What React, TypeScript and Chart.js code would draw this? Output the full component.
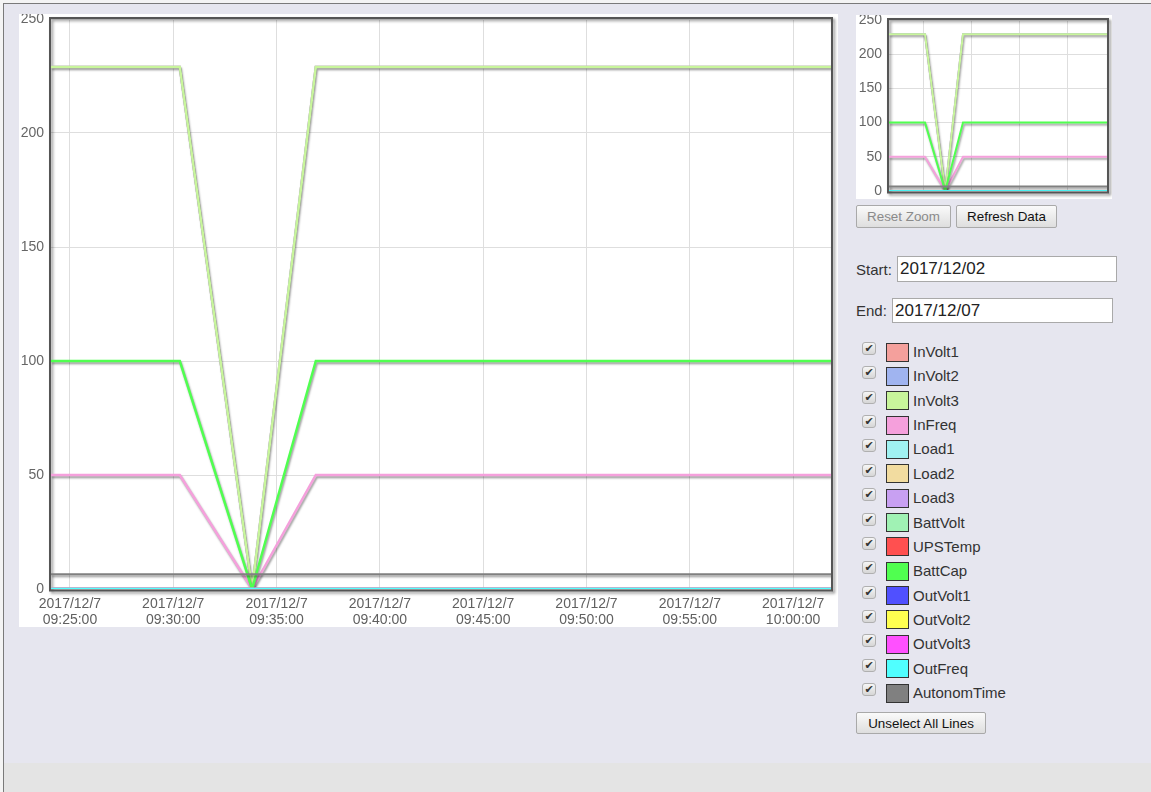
import React, { useEffect, useRef } from 'react';
import { Chart, registerables } from 'chart.js';
Chart.register(...registerables);

// ---- data ----
const dateLabel = '2017/12/7';
const times = ['09:24:05', '09:30:19', '09:33:49', '09:36:54', '10:01:50'];
const inVolt1 = [229, 229, 0, 229, 229];
const inVolt2 = [229, 229, 0, 229, 229];
const inVolt3 = [229, 229, 0, 229, 229];
const inFreq = [50, 50, 0, 50, 50];
const load1 = [0, 0, 0, 0, 0];
const load2 = [0, 0, 0, 0, 0];
const load3 = [0, 0, 0, 0, 0];
const battVolt = [0, 0, 0, 0, 0];
const upsTemp = [0, 0, 0, 0, 0];
const battCap = [100, 100, 0, 100, 100];
const outVolt1 = [0, 0, 0, 0, 0];
const outVolt2 = [0, 0, 0, 0, 0];
const outVolt3 = [0, 0, 0, 0, 0];
const outFreq = [0, 0, 0, 0, 0];
const autonomTime = [6.5, 6.5, 6.5, 6.5, 6.5];

const seriesNames = ['InVolt1', 'InVolt2', 'InVolt3', 'InFreq', 'Load1', 'Load2', 'Load3', 'BattVolt', 'UPSTemp', 'BattCap', 'OutVolt1', 'OutVolt2', 'OutVolt3', 'OutFreq', 'AutonomTime'];
const seriesValues = [inVolt1, inVolt2, inVolt3, inFreq, load1, load2, load3, battVolt, upsTemp, battCap, outVolt1, outVolt2, outVolt3, outFreq, autonomTime];
const seriesColors = ['#f4a09c', '#a0b4f0', '#c8f59b', '#f5a0dc', '#a0f2f2', '#f2dca0', '#c8a0f2', '#a0f2b4', '#ff5050', '#50ff50', '#5050ff', '#ffff50', '#ff50ff', '#50ffff', '#808080'];

const yTicks = [0, 50, 100, 150, 200, 250];
const mainXTicks = ['09:25:00', '09:30:00', '09:35:00', '09:40:00', '09:45:00', '09:50:00', '09:55:00', '10:00:00'];
const miniXTicks = ['09:30:00', '09:38:20', '09:46:40', '09:55:00'];

const startDate = '2017/12/02';
const endDate = '2017/12/07';

// ---- helpers ----
const toSec = (t: string) => {
  const [h, m, s] = t.split(':').map(Number);
  return h * 3600 + m * 60 + s;
};
const pad = (n: number) => String(n).padStart(2, '0');
const fmt = (v: number) => `${pad(Math.floor(v / 3600))}:${pad(Math.floor((v % 3600) / 60))}:${pad(Math.round(v % 60))}`;

// a series whose line is fully covered by a later (drawn on top) identical series casts no shadow
const covered = seriesValues.map((vals, i) =>
  seriesValues.some((other, j) => j > i && other.every((v, k) => v === vals[k]))
);

const FONT = '"Liberation Sans", Arial, sans-serif';

const shadowPlugin = {
  id: 'lineShadow',
  beforeDatasetsDraw(chart: any) {
    const { ctx, chartArea: a } = chart;
    ctx.save();
    ctx.shadowColor = 'rgba(0,0,0,0.45)';
    ctx.shadowOffsetX = 2;
    ctx.shadowOffsetY = 2;
    ctx.shadowBlur = 3;
    ctx.strokeStyle = '#555';
    ctx.lineWidth = 2;
    ctx.strokeRect(a.left - 1, a.top - 1, a.right - a.left + 2, a.bottom - a.top + 2.5);
    ctx.restore();
  },
  beforeDatasetDraw(chart: any, args: any) {
    const ctx = chart.ctx;
    ctx.save();
    if (!covered[args.index]) {
      ctx.shadowColor = 'rgba(0,0,0,0.38)';
      ctx.shadowOffsetX = 1;
      ctx.shadowOffsetY = 2;
      ctx.shadowBlur = 2;
    }
  },
  afterDatasetDraw(chart: any) {
    chart.ctx.restore();
  },
};

function makeConfig(mini: boolean): any {
  const datasets = seriesNames.map((name, i) => ({
    label: name,
    data: times.map((t, k) => ({ x: toSec(t), y: seriesValues[i][k] })),
    borderColor: seriesColors[i],
    backgroundColor: seriesColors[i],
    borderWidth: name === 'AutonomTime' ? 2 : mini ? 2 : 2.5,
    pointRadius: 0,
    pointHoverRadius: 0,
    tension: 0,
    fill: false,
    order: -i,
  }));
  const xTicks = mini ? miniXTicks : mainXTicks;
  return {
    type: 'line',
    data: { datasets },
    plugins: [shadowPlugin],
    options: {
      animation: false,
      responsive: false,
      devicePixelRatio: 1,
      events: [],
      layout: { padding: mini ? { top: 5, right: 5, left: 0, bottom: 0 } : { top: 5, right: 7, left: 0, bottom: 0 } },
      plugins: { legend: { display: false }, tooltip: { enabled: false } },
      scales: {
        x: {
          type: 'linear',
          min: toSec(times[0]),
          max: toSec(times[times.length - 1]),
          border: { display: false },
          grid: { color: '#dedede', lineWidth: 1, drawTicks: false },
          afterBuildTicks: (s: any) => {
            s.ticks = xTicks.map((t) => ({ value: toSec(t) }));
          },
          afterFit: (s: any) => {
            s.height = mini ? 8 : 38;
            s.paddingLeft = 0;
            s.paddingRight = 0;
          },
          ticks: {
            display: !mini,
            autoSkip: false,
            maxRotation: 0,
            minRotation: 0,
            padding: 7,
            color: '#606060',
            font: { family: FONT, size: 14, lineHeight: 1.15 },
            callback: (v: number) => [dateLabel, fmt(v)],
          },
        },
        y: {
          min: 0,
          max: 250,
          border: { display: false },
          grid: { color: '#dedede', lineWidth: 1, drawTicks: false },
          afterBuildTicks: (s: any) => {
            s.ticks = yTicks.map((v) => ({ value: v }));
          },
          afterFit: (s: any) => {
            s.width = mini ? 33 : 32;
            s.paddingTop = 0;
            s.paddingBottom = 0;
          },
          ticks: {
            padding: 7,
            color: '#666',
            font: { family: FONT, size: 14 },
            callback: (v: number) => String(v),
          },
        },
      },
    },
  };
}

function ChartCanvas({ mini, width, height }: { mini: boolean; width: number; height: number }) {
  const ref = useRef<HTMLCanvasElement | null>(null);
  useEffect(() => {
    if (!ref.current) return;
    const chart = new Chart(ref.current, makeConfig(mini));
    return () => chart.destroy();
  }, [mini]);
  return <canvas ref={ref} width={width} height={height} style={{ width, height, display: 'block' }} />;
}

const btn = (disabled: boolean): React.CSSProperties => ({
  position: 'absolute',
  boxSizing: 'border-box',
  border: '1px solid #a9a9a9',
  borderRadius: 2,
  background: 'linear-gradient(#fafafa, #dedede)',
  fontFamily: FONT,
  fontSize: 13.4,
  color: disabled ? '#8a8a8a' : '#111',
  display: 'flex',
  alignItems: 'center',
  justifyContent: 'center',
  padding: 0,
});

export default function App() {
  const rowTop = 352;
  const rowStep = 24.36;
  return (
    <div style={{ position: 'absolute', left: 0, top: 0, width: 1151, height: 792, background: '#f4f4f4', overflow: 'hidden', fontFamily: FONT }}>
      <div style={{ position: 'absolute', left: 3, top: 3, width: 1148, height: 789, borderTop: '1px solid #7a7a7a', borderLeft: '1px solid #7a7a7a', background: '#e6e6ef' }} />
      <div style={{ position: 'absolute', left: 4, top: 763, width: 1147, height: 29, background: '#e4e4e4' }} />

      <div style={{ position: 'absolute', left: 19, top: 14, width: 819, height: 613, background: '#fff' }}>
        <ChartCanvas mini={false} width={819} height={613} />
      </div>

      <div style={{ position: 'absolute', left: 856, top: 15, width: 256, height: 184, background: '#fff' }}>
        <ChartCanvas mini={true} width={256} height={184} />
      </div>

      <div style={{ ...btn(true), left: 856, top: 205, width: 95, height: 23 }}>Reset Zoom</div>
      <div style={{ ...btn(false), left: 956, top: 205, width: 101, height: 23 }}>Refresh Data</div>

      <div style={{ position: 'absolute', left: 856, top: 260, height: 20, lineHeight: '20px', fontSize: 15, color: '#333' }}>Start:</div>
      <div style={{ position: 'absolute', left: 897, top: 256, width: 220, height: 26, boxSizing: 'border-box', border: '1px solid #a9a9a9', background: '#fff', fontSize: 17, lineHeight: '24px', paddingLeft: 2, color: '#222' }}>{startDate}</div>

      <div style={{ position: 'absolute', left: 856, top: 301, height: 20, lineHeight: '20px', fontSize: 15, color: '#333' }}>End:</div>
      <div style={{ position: 'absolute', left: 892, top: 298, width: 221, height: 25, boxSizing: 'border-box', border: '1px solid #a9a9a9', background: '#fff', fontSize: 17, lineHeight: '23px', paddingLeft: 2, color: '#222' }}>{endDate}</div>

      {seriesNames.map((name, i) => {
        const cy = rowTop + i * rowStep;
        return (
          <React.Fragment key={name}>
            <div style={{ position: 'absolute', left: 862, top: cy - 10, width: 14, height: 13, boxSizing: 'border-box', border: '1px solid #b0b0b0', borderRadius: 3, background: 'linear-gradient(#f6f6f6, #d6d6d6)', fontSize: 11, fontWeight: 'bold', lineHeight: '11px', textAlign: 'center', color: '#333', fontFamily: '"DejaVu Sans", sans-serif' }}>✔</div>
            <div style={{ position: 'absolute', left: 886, top: cy - 9.5, width: 23, height: 19, boxSizing: 'border-box', border: '1px solid #333', background: seriesColors[i] }} />
            <div style={{ position: 'absolute', left: 913, top: cy - 10, height: 20, lineHeight: '20px', fontSize: 15, color: '#333', whiteSpace: 'nowrap' }}>{name}</div>
          </React.Fragment>
        );
      })}

      <div style={{ ...btn(false), left: 856, top: 712, width: 130, height: 22 }}>Unselect All Lines</div>
    </div>
  );
}
